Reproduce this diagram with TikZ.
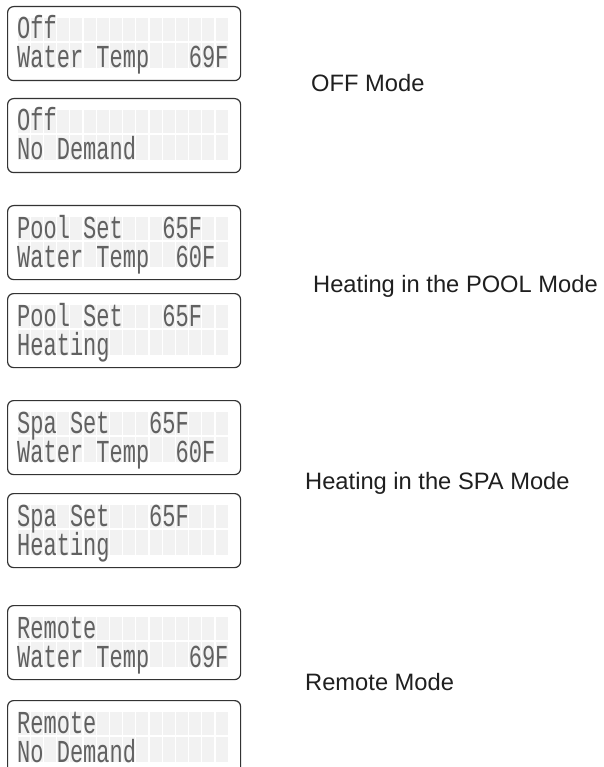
\documentclass[tikz,border=0pt]{standalone}
\usepackage{fontspec}
\setmainfont{Liberation Sans}
\newfontfamily\lcdfont{Liberation Mono}
\tikzset{
  lcdbox/.style={draw=black!80, line width=1.2pt, rounded corners=6pt, fill=white,
                 minimum width=233pt, minimum height=74pt, inner sep=0pt, anchor=north west},
  lcdcell/.style={fill=black!5, draw=none},
  lcdtxt/.style={font=\lcdfont\fontsize{32}{32}\selectfont, text=black!62, anchor=base west, inner sep=0pt},
  modelabel/.style={font=\fontsize{23.7}{28}\selectfont, text=black!88, anchor=base west, inner sep=0pt}
}
\newcommand\lcdpanel[2]{%
  \node[lcdbox] (#1) at (7,#2) {};
  \foreach \i in {0,...,15}{
    \fill[lcdcell] ({17.6+13.2*\i},{#2+12}) rectangle ({16.4+13.2*(\i+1)},{#2+35});
    \fill[lcdcell] ({17.6+13.2*\i},{#2+37}) rectangle ({16.4+13.2*(\i+1)},{#2+62});
  }
}
\newcommand\lcdline[5]{%
  \node[lcdtxt] (#1) at ({17+13.2*#4},{#2+#3}) {\scalebox{0.6875}[1]{#5}};
}
\begin{document}
\begin{tikzpicture}[x=1pt,y=-1pt]
\useasboundingbox (0,0) rectangle (603,767);
\fill[white] (0,0) rectangle (603,767);

% OFF mode
\lcdpanel{p1}{6}
\lcdline{p1a}{6}{33}{0}{Off}
\lcdline{p1b}{6}{62}{0}{Water Temp}
\lcdline{p1c}{6}{62}{13}{69F}
\lcdpanel{p2}{98}
\lcdline{p2a}{98}{33}{0}{Off}
\lcdline{p2b}{98}{62}{0}{No Demand}

% POOL mode
\lcdpanel{p3}{205}
\lcdline{p3a}{205}{33}{0}{Pool Set}
\lcdline{p3b}{205}{33}{11}{65F}
\lcdline{p3c}{205}{62}{0}{Water Temp}
\lcdline{p3d}{205}{62}{12}{60F}
\lcdpanel{p4}{293}
\lcdline{p4a}{293}{33}{0}{Pool Set}
\lcdline{p4b}{293}{33}{11}{65F}
\lcdline{p4c}{293}{62}{0}{Heating}

% SPA mode
\lcdpanel{p5}{400}
\lcdline{p5a}{400}{33}{0}{Spa Set}
\lcdline{p5b}{400}{33}{10}{65F}
\lcdline{p5c}{400}{62}{0}{Water Temp}
\lcdline{p5d}{400}{62}{12}{60F}
\lcdpanel{p6}{493}
\lcdline{p6a}{493}{33}{0}{Spa Set}
\lcdline{p6b}{493}{33}{10}{65F}
\lcdline{p6c}{493}{62}{0}{Heating}

% Remote mode
\lcdpanel{p7}{605}
\lcdline{p7a}{605}{33}{0}{Remote}
\lcdline{p7b}{605}{62}{0}{Water Temp}
\lcdline{p7c}{605}{62}{13}{69F}
\lcdpanel{p8}{700}
\lcdline{p8a}{700}{33}{0}{Remote}
\lcdline{p8b}{700}{62}{0}{No Demand}

% labels
\node[modelabel] (l1) at (311,92) {OFF Mode};
\node[modelabel] (l2) at (313,292) {Heating in the POOL Mode};
\node[modelabel] (l3) at (305,489) {Heating in the SPA Mode};
\node[modelabel] (l4) at (305,690) {Remote Mode};
\end{tikzpicture}
\end{document}
